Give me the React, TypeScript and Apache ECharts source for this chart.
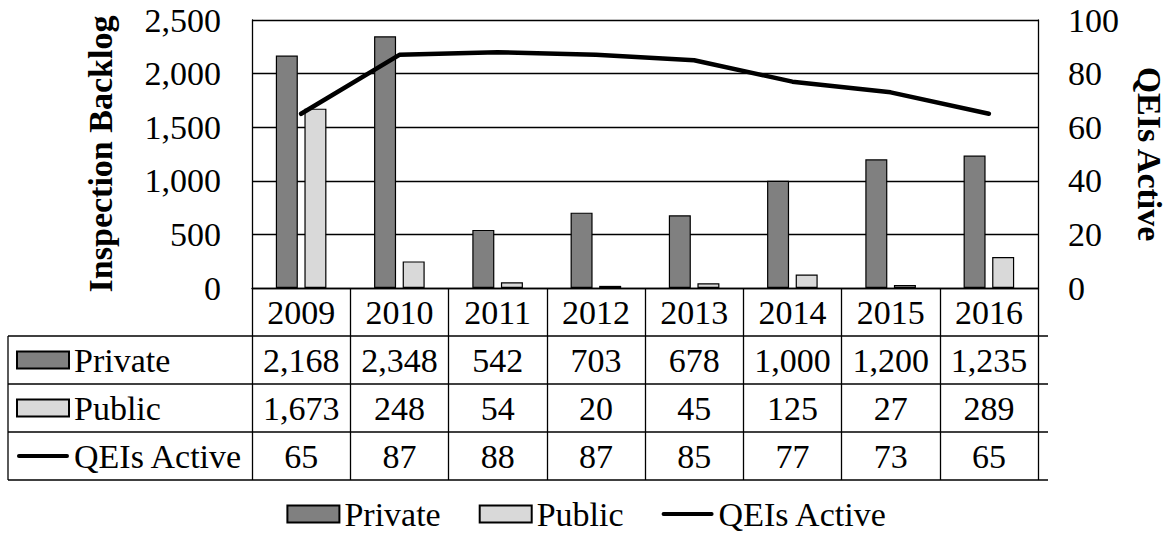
import React, { useEffect, useRef } from "react";
import * as echarts from "echarts";

const years = ["2009", "2010", "2011", "2012", "2013", "2014", "2015", "2016"];
const privateVals = [2168, 2348, 542, 703, 678, 1000, 1200, 1235];
const publicVals = [1673, 248, 54, 20, 45, 125, 27, 289];
const qeiVals = [65, 87, 88, 87, 85, 77, 73, 65];
const seriesNames = ["Private", "Public", "QEIs Active"];

const W = 1174;
const H = 538;
const GRID_LEFT = 252;
const GRID_RIGHT_X = 1048;
const GRID_TOP = 20;
const AXIS_Y = 288;
const ROW_H = 48;
const TABLE_LEFT = 8;
const FONT = "'Liberation Serif', 'Times New Roman', serif";
const FS = 34;
const LINE_C = "#000";
const LINE_W = 1.3;
const ICON_W = 52;
const ICON_H = 17;
// line-shaped legend icon kept in a full ICON_W x ICON_H box so it is not stretched
const LINE_ICON = `path://M0,0L0,0.01L0.01,0ZM${ICON_W},${ICON_H}L${ICON_W},${ICON_H - 0.01}L${ICON_W - 0.01},${ICON_H}ZM1,6.5H${ICON_W - 1}A2,2 0 0 1 ${ICON_W - 1},10.5H1A2,2 0 0 1 1,6.5Z`;

const fmt = (v: number) => v.toLocaleString("en-US");

export default function App() {
  const ref = useRef<HTMLDivElement>(null);
  useEffect(() => {
    if (!ref.current) return;
    const chart = echarts.init(ref.current, undefined, { renderer: "svg" });
    const rows = [privateVals, publicVals, qeiVals];
    const txt = { fontFamily: FONT, fontSize: FS, color: "#000" };
    const legendData = [
      { name: seriesNames[0], icon: "rect" },
      { name: seriesNames[1], icon: "rect" },
      { name: seriesNames[2], icon: LINE_ICON },
    ];
    const valueAxes = rows.map((vals, i) => ({
      type: "category",
      data: years,
      position: "bottom",
      offset: ROW_H * (i + 1),
      axisLine: { show: false },
      axisTick: { show: false },
      axisLabel: {
        ...txt,
        margin: 7,
        interval: 0,
        formatter: (_v: string, idx: number) => fmt(vals[idx]),
      },
    }));
    const tableBottom = AXIS_Y + ROW_H * 4;
    const hLines = [1, 2, 3, 4].map((k) => ({
      type: "line",
      shape: { x1: TABLE_LEFT, y1: AXIS_Y + ROW_H * k, x2: GRID_RIGHT_X, y2: AXIS_Y + ROW_H * k },
      style: { stroke: LINE_C, lineWidth: LINE_W },
      z: 10,
    }));
    const option: any = {
      animation: false,
      backgroundColor: "#fff",
      textStyle: { fontFamily: FONT },
      grid: {
        left: GRID_LEFT,
        right: W - GRID_RIGHT_X,
        top: GRID_TOP,
        bottom: H - AXIS_Y,
        containLabel: false,
      },
      legend: [
        {
          data: legendData,
          left: "center",
          top: 497,
          padding: 0,
          itemGap: 38,
          itemWidth: ICON_W,
          itemHeight: ICON_H,
          textStyle: { ...txt },
        },
        {
          data: legendData,
          orient: "vertical",
          left: 16,
          top: AXIS_Y + ROW_H,
          padding: 0,
          itemGap: 0,
          itemWidth: ICON_W,
          itemHeight: ICON_H,
          textStyle: { ...txt, lineHeight: ROW_H },
        },
      ],
      xAxis: [
        {
          type: "category",
          data: years,
          position: "bottom",
          axisLine: { show: true, lineStyle: { color: LINE_C, width: LINE_W } },
          axisTick: { show: true, length: tableBottom - AXIS_Y, lineStyle: { color: LINE_C, width: LINE_W } },
          axisLabel: { ...txt, margin: 7, interval: 0 },
        },
        ...valueAxes,
      ],
      yAxis: [
        {
          type: "value",
          min: 0,
          max: 2500,
          interval: 500,
          name: "Inspection Backlog",
          nameLocation: "middle",
          nameGap: 135,
          nameTextStyle: { ...txt, fontWeight: "bold" },
          axisLine: { show: true, lineStyle: { color: LINE_C, width: LINE_W } },
          axisTick: { show: false },
          axisLabel: { ...txt, margin: 31, formatter: (v: number) => fmt(v) },
          splitLine: { show: true, lineStyle: { color: LINE_C, width: LINE_W } },
        },
        {
          type: "value",
          min: 0,
          max: 100,
          interval: 20,
          position: "right",
          name: "QEIs Active",
          nameLocation: "middle",
          nameRotate: -90,
          nameGap: 94,
          nameTextStyle: { ...txt, fontWeight: "bold" },
          axisLine: { show: true, lineStyle: { color: LINE_C, width: LINE_W } },
          axisTick: { show: false },
          axisLabel: { ...txt, margin: 30 },
          splitLine: { show: false },
        },
      ],
      series: [
        {
          name: "Private",
          type: "bar",
          data: privateVals,
          barWidth: 22,
          barGap: "30%",
          itemStyle: { color: "#808080", borderColor: "#000", borderWidth: 1.2 },
        },
        {
          name: "Public",
          type: "bar",
          data: publicVals,
          barWidth: 22,
          barGap: "30%",
          itemStyle: { color: "#d9d9d9", borderColor: "#000", borderWidth: 1.2 },
        },
        {
          name: "QEIs Active",
          type: "line",
          yAxisIndex: 1,
          data: qeiVals,
          symbol: "none",
          lineStyle: { color: "#000", width: 4.5, cap: "round", join: "round" },
          itemStyle: { color: "#000" },
          z: 5,
        },
      ],
      graphic: [
        ...hLines,
        {
          type: "line",
          shape: { x1: TABLE_LEFT, y1: AXIS_Y + ROW_H, x2: TABLE_LEFT, y2: tableBottom },
          style: { stroke: LINE_C, lineWidth: LINE_W },
          z: 10,
        },
      ],
    };
    chart.setOption(option);
    return () => chart.dispose();
  }, []);
  return <div ref={ref} style={{ width: W, height: H, position: "absolute", left: 0, top: 0 }} />;
}
